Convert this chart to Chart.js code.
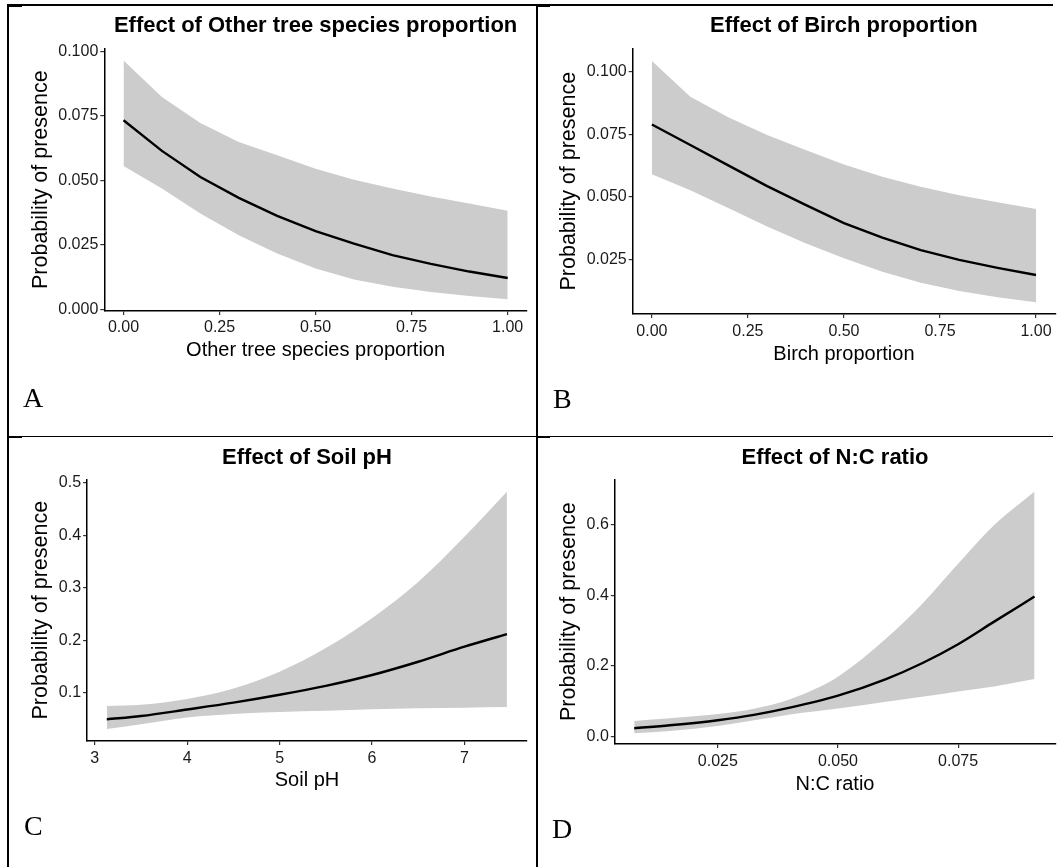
<!DOCTYPE html>
<html>
<head>
<meta charset="utf-8">
<script src="https://cdn.jsdelivr.net/npm/chart.js@4.4.1/dist/chart.umd.min.js"></script>
<style>
  html, body { margin: 0; padding: 0; background: #fff; }
  body { width: 1058px; height: 867px; position: relative; overflow: hidden; }
  .rule { position: absolute; background: #000; }
  .cell { position: absolute; }
  .tag { position: absolute; font-family: "Liberation Serif", "Times New Roman", serif; font-size: 28px; line-height: 28px; color: #000; }
</style>
</head>
<body>
<!-- table rules -->
<div class="rule" style="left:7px;top:4px;width:1046px;height:2px"></div>
<div class="rule" style="left:7px;top:4px;width:2px;height:863px"></div>
<div class="rule" style="left:536px;top:4px;width:2px;height:863px"></div>
<div class="rule" style="left:7px;top:436px;width:1046px;height:1px"></div>
<div class="rule" style="left:7px;top:4px;width:15px;height:3px"></div>
<div class="rule" style="left:536px;top:4px;width:14px;height:3px"></div>
<div class="rule" style="left:7px;top:436px;width:15px;height:2px"></div>
<div class="rule" style="left:536px;top:436px;width:14px;height:2px"></div>

<div class="cell" style="left:10px;top:7px"><canvas id="chartA" width="525" height="428"></canvas></div>
<div class="cell" style="left:539px;top:7px"><canvas id="chartB" width="519" height="428"></canvas></div>
<div class="cell" style="left:10px;top:439px"><canvas id="chartC" width="525" height="428"></canvas></div>
<div class="cell" style="left:539px;top:439px"><canvas id="chartD" width="519" height="428"></canvas></div>

<div class="tag" style="left:23px;top:384px">A</div>
<div class="tag" style="left:553px;top:385px">B</div>
<div class="tag" style="left:24px;top:812px">C</div>
<div class="tag" style="left:552px;top:815px">D</div>

<script>
// ==============================
// Data
// ==============================
const otherX = [0, 0.1, 0.2, 0.3, 0.4, 0.5, 0.6, 0.7, 0.8, 0.9, 1.0];
const otherFit = [0.0733, 0.0614, 0.0513, 0.0432, 0.0362, 0.0303, 0.0254, 0.0210, 0.0176, 0.0146, 0.0121];
const otherLow = [0.0555, 0.0468, 0.0371, 0.0287, 0.0216, 0.0158, 0.0115, 0.0087, 0.0067, 0.0051, 0.0039];
const otherHigh = [0.0965, 0.0823, 0.0722, 0.0649, 0.0597, 0.0545, 0.0502, 0.0468, 0.0437, 0.0410, 0.0382];

const birchX = [0, 0.1, 0.2, 0.3, 0.4, 0.5, 0.6, 0.7, 0.8, 0.9, 1.0];
const birchFit = [0.0790, 0.0708, 0.0625, 0.0543, 0.0468, 0.0395, 0.0337, 0.0287, 0.0248, 0.0216, 0.0187];
const birchLow = [0.0591, 0.0527, 0.0454, 0.0381, 0.0314, 0.0254, 0.0200, 0.0156, 0.0123, 0.0098, 0.0078];
const birchHigh = [0.1044, 0.0901, 0.0818, 0.0748, 0.0688, 0.0630, 0.0581, 0.0541, 0.0507, 0.0479, 0.0451];

const phX = [3.13, 3.5, 4, 4.5, 5, 5.5, 6, 6.5, 7, 7.46];
const phFit = [0.0492, 0.0556, 0.0680, 0.0810, 0.0960, 0.1130, 0.1337, 0.1590, 0.1876, 0.2117];
const phLow = [0.0308, 0.0400, 0.0530, 0.0594, 0.0632, 0.0657, 0.0683, 0.0702, 0.0714, 0.0727];
const phHigh = [0.0746, 0.0770, 0.0880, 0.1080, 0.1400, 0.1850, 0.2420, 0.3110, 0.3970, 0.4830];

const ncX = [0.0076, 0.015, 0.025, 0.0325, 0.04, 0.05, 0.06, 0.0675, 0.075, 0.0825, 0.0909];
const ncFit = [0.0236, 0.0320, 0.0465, 0.0615, 0.0820, 0.1160, 0.1630, 0.2080, 0.2620, 0.3260, 0.3970];
const ncLow = [0.0095, 0.0160, 0.0300, 0.0460, 0.0630, 0.0800, 0.0990, 0.1130, 0.1280, 0.1420, 0.1630];
const ncHigh = [0.0444, 0.0520, 0.0640, 0.0790, 0.1060, 0.1700, 0.2780, 0.3760, 0.4900, 0.6000, 0.6950];

// tick labels
const propTicks = [0, 0.25, 0.5, 0.75, 1];
const otherYTicks = [0, 0.025, 0.05, 0.075, 0.1];
const birchYTicks = [0.025, 0.05, 0.075, 0.1];
const phTicks = [3, 4, 5, 6, 7];
const phYTicks = [0.1, 0.2, 0.3, 0.4, 0.5];
const ncTicks = [0.025, 0.05, 0.075];
const ncYTicks = [0, 0.2, 0.4, 0.6];

const yTitle = 'Probability of presence';
const FONT = '"Liberation Sans", Arial, sans-serif';

// ==============================
// Helpers
// ==============================
function pts(xs, ys) {
    return xs.map((x, i) => ({ x: x, y: ys[i] }));
}

function axis(c, side) {
    const isX = side === 'x';
    return {
        type: 'linear',
        min: isX ? c.xMin : c.yMin,
        max: isX ? c.xMax : c.yMax,
        afterBuildTicks: s => { s.ticks = (isX ? c.xTicks : c.yTicks).map(v => ({ value: v })); },
        afterFit: s => { if (isX) s.height = c.xH; else s.width = c.yW; },
        border: { display: true, color: '#000', width: 1.5 },
        grid: { display: true, drawOnChartArea: false, drawTicks: true, tickLength: 4, color: '#333', lineWidth: 1.2 },
        ticks: {
            color: '#1a1a1a',
            padding: isX ? c.xTickPad : 2,
            font: { family: FONT, size: 16 },
            callback: v => v.toFixed(isX ? c.xDec : c.yDec)
        },
        title: {
            display: true,
            text: isX ? c.xTitle : yTitle,
            color: '#000',
            font: { family: FONT, size: isX ? 20 : 21.5 },
            padding: isX ? { top: 0, bottom: c.xTitlePad } : { top: c.yTitlePad, bottom: 0 }
        }
    };
}

function makePanel(id, c) {
    const ctx = document.getElementById(id);
    if (!ctx) return;
    new Chart(ctx, {
        type: 'line',
        data: {
            datasets: [
                { data: pts(c.xs, c.fit), borderColor: '#000', borderWidth: 2.4, pointRadius: 0, fill: false },
                { data: pts(c.xs, c.high), borderColor: 'rgba(0,0,0,0)', borderWidth: 1, backgroundColor: '#cccccc', pointRadius: 0, fill: '+1' },
                { data: pts(c.xs, c.low), borderColor: 'rgba(0,0,0,0)', borderWidth: 1, pointRadius: 0, fill: false }
            ]
        },
        options: {
            responsive: false,
            animation: false,
            devicePixelRatio: 1,
            elements: { line: { cubicInterpolationMode: c.smooth ? 'monotone' : 'default', tension: 0 } },
            layout: { padding: { top: 0, left: 0, bottom: 0, right: c.padRight } },
            plugins: {
                legend: { display: false },
                tooltip: { enabled: false },
                title: {
                    display: true,
                    text: c.title,
                    fullSize: false,
                    color: '#000',
                    font: { family: FONT, size: 22, weight: 'bold' },
                    padding: { top: c.titleTop, bottom: c.titleBottom }
                }
            },
            scales: { x: axis(c, 'x'), y: axis(c, 'y') }
        }
    });
}

// ==============================
// Panels
// ==============================
document.addEventListener('DOMContentLoaded', () => {
    makePanel('chartA', {
        title: 'Effect of Other tree species proportion', xTitle: 'Other tree species proportion',
        xs: otherX, fit: otherFit, low: otherLow, high: otherHigh, smooth: false,
        xMin: -0.05, xMax: 1.05, yMin: -0.0007, yMax: 0.1012,
        xTicks: propTicks, yTicks: otherYTicks, xDec: 2, yDec: 3,
        yW: 94.3, xH: 124, padRight: 8.1, titleTop: 6, titleBottom: 8.9,
        xTickPad: 3, xTitlePad: 73, yTitlePad: 18.4
    });
    makePanel('chartB', {
        title: 'Effect of Birch proportion', xTitle: 'Birch proportion',
        xs: birchX, fit: birchFit, low: birchLow, high: birchHigh, smooth: false,
        xMin: -0.05, xMax: 1.05, yMin: 0.0031, yMax: 0.1095,
        xTicks: propTicks, yTicks: birchYTicks, xDec: 2, yDec: 3,
        yW: 93.7, xH: 121, padRight: 2.8, titleTop: 6, titleBottom: 8.9,
        xTickPad: 4, xTitlePad: 69, yTitlePad: 16.8
    });
    makePanel('chartC', {
        title: 'Effect of Soil pH', xTitle: 'Soil pH',
        xs: phX, fit: phFit, low: phLow, high: phHigh, smooth: true,
        xMin: 2.917, xMax: 7.676, yMin: 0.008, yMax: 0.5065,
        xTicks: phTicks, yTicks: phYTicks, xDec: 0, yDec: 1,
        yW: 77.1, xH: 126, padRight: 8.1, titleTop: 5.5, titleBottom: 8.4,
        xTickPad: 3.7, xTitlePad: 75, yTitlePad: 18.4
    });
    makePanel('chartD', {
        title: 'Effect of N:C ratio', xTitle: 'N:C ratio',
        xs: ncX, fit: ncFit, low: ncLow, high: ncHigh, smooth: true,
        xMin: 0.00356, xMax: 0.0952, yMin: -0.021, yMax: 0.7296,
        xTicks: ncTicks, yTicks: ncYTicks, xDec: 3, yDec: 1,
        yW: 75.8, xH: 123, padRight: 2.8, titleTop: 5.5, titleBottom: 8.4,
        xTickPad: 4, xTitlePad: 71, yTitlePad: 16.8
    });
});
</script>
</body>
</html>
